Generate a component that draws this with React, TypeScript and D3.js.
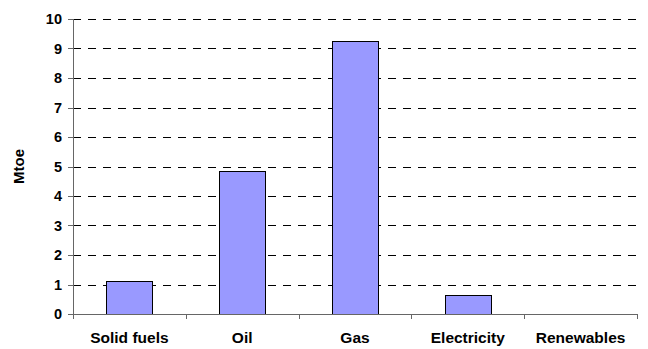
import React from "react";
import * as d3 from "d3";

// values
const categories = ["Solid fuels", "Oil", "Gas", "Electricity", "Renewables"];
const values = [1.13, 4.85, 9.27, 0.65, 0];
const yTicks = [0, 1, 2, 3, 4, 5, 6, 7, 8, 9, 10];
const yLabel = "Mtoe";

const W = 648;
const H = 349;
const left = 73;
const right = 637;
const top = 19;
const bottom = 314;

export default function App() {
  const x = d3.scaleBand<string>().domain(categories).range([left, right]).paddingInner(0.59).paddingOuter(0.295);
  const band = d3.scaleBand<string>().domain(categories).range([left, right]);
  const y = d3.scaleLinear().domain([0, 10]).range([bottom, top]);
  const font = "'Liberation Sans', Arial, sans-serif";

  return (
    <div style={{ position: "absolute", left: 0, top: 0, width: W, height: H, background: "#fff" }}>
      <svg width={W} height={H} style={{ display: "block" }} fontFamily={font}>
        {/* grid */}
        {yTicks.filter(t => t > 0).map(t => (
          <line key={"g" + t} x1={left} x2={right} y1={Math.round(y(t)) + 0.5} y2={Math.round(y(t)) + 0.5}
            stroke="#000" strokeWidth={1} strokeDasharray="8,7" />
        ))}
        {/* bars */}
        {categories.map((c, i) => values[i] > 0 && (
          <rect key={c} x={Math.round(x(c)!) + 0.5} y={Math.round(y(values[i])) + 0.5}
            width={Math.round(x.bandwidth())} height={Math.round(bottom - y(values[i]))}
            fill="#9999ff" stroke="#000" strokeWidth={1} />
        ))}
        {/* y axis */}
        <line x1={left + 0.5} x2={left + 0.5} y1={y(10)} y2={bottom} stroke="#666" />
        {yTicks.map(t => (
          <g key={"t" + t}>
            <line x1={left - 5} x2={left} y1={Math.round(y(t)) + 0.5} y2={Math.round(y(t)) + 0.5} stroke="#666" />
            <text x={62} y={y(t)} dy="0.36em" textAnchor="end" fontSize={14.5} fontWeight="bold" fill="#000">{t}</text>
          </g>
        ))}
        {/* x axis */}
        <line x1={left} x2={right} y1={bottom + 0.5} y2={bottom + 0.5} stroke="#666" />
        {[...categories.map(c => band(c)!), right].map((v, i) => (
          <line key={"xt" + i} x1={Math.round(v) + 0.5} x2={Math.round(v) + 0.5} y1={bottom} y2={bottom + 5} stroke="#666" />
        ))}
        {categories.map(c => (
          <text key={"xl" + c} x={band(c)! + band.bandwidth() / 2} y={342.5} textAnchor="middle" fontSize={15.5} fontWeight="bold" fill="#000">{c}</text>
        ))}
        <text transform={`translate(24,${(top + bottom) / 2}) rotate(-90)`} textAnchor="middle" fontSize={15} fontWeight="bold" fill="#000">{yLabel}</text>
      </svg>
    </div>
  );
}
